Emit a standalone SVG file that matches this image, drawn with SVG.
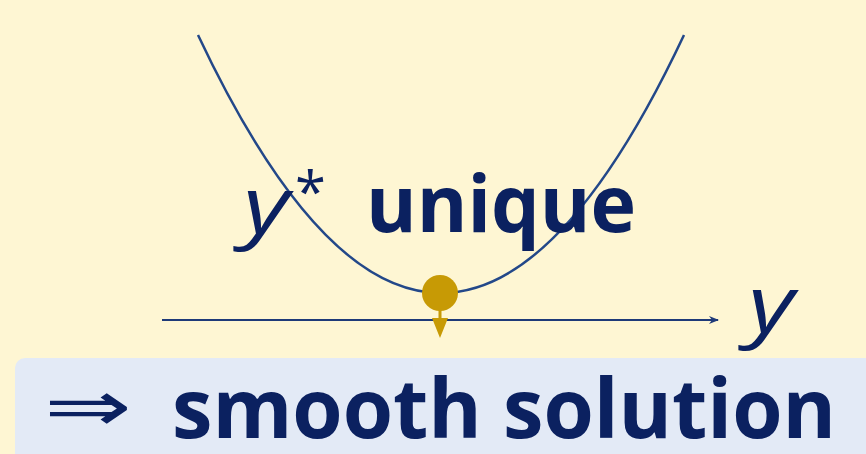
<svg xmlns="http://www.w3.org/2000/svg" width="866" height="454" viewBox="0 0 866 454">
<style>
.t{fill:#0b2160;font-family:"Open Sans","DejaVu Sans",sans-serif}
.b{font-weight:bold}
.i{font-style:italic}
</style>
<defs>
<marker id="ax" viewBox="0 0 10 10" refX="9" refY="5" markerWidth="10" markerHeight="10" markerUnits="userSpaceOnUse" orient="auto">
<path d="M0,1 L10,5 L0,9 L3,5 Z" fill="#1e3a78"/>
</marker>
</defs>
<rect width="866" height="454" fill="#fef6d3"/>
<g id="curve">
<path d="M198,35 Q441,551 684,35" fill="none" stroke="#234889" stroke-width="2.5"/>
</g>
<g id="connectors">
<line x1="162" y1="320" x2="718" y2="320" stroke="#1e3a78" stroke-width="2" marker-end="url(#ax)"/>
<line x1="440" y1="305" x2="440" y2="326" stroke="#c79a05" stroke-width="3"/>
<path d="M432,318 L448,318 L440,338 Z" fill="#c79a05"/>
</g>
<g id="minimum">
<circle cx="440" cy="293" r="18" fill="#c79a05"/>
</g>
<g id="label">
<text class="t i" x="243" y="233" font-size="78" textLength="46" lengthAdjust="spacingAndGlyphs">y</text>
<text class="t" x="295" y="212" font-size="56">*</text>
<text class="t b" x="366" y="232" font-size="78" textLength="270" lengthAdjust="spacingAndGlyphs">unique</text>
</g>
<g id="axis-label">
<text class="t i" x="748" y="332" font-size="78" textLength="46" lengthAdjust="spacingAndGlyphs">y</text>
</g>
<g id="result">
<rect x="15" y="358" width="870" height="110" rx="10" fill="#e3eaf6"/>
<text x="44" y="431" font-size="72" style="font-family:'DejaVu Sans',sans-serif;fill:#0b2160" textLength="88" lengthAdjust="spacingAndGlyphs">⇒</text>
<text class="t b" x="172" y="438" font-size="82" textLength="664" lengthAdjust="spacingAndGlyphs">smooth solution</text>
</g>
</svg>
